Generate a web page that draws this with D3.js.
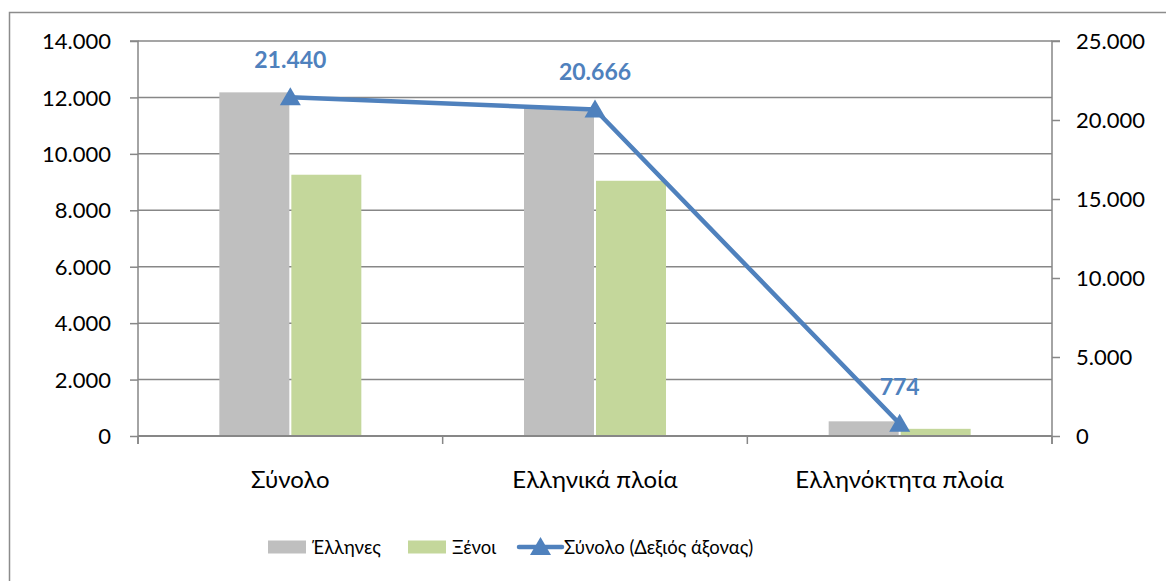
<!DOCTYPE html>
<html>
<head>
<meta charset="utf-8">
<script src="https://cdn.jsdelivr.net/npm/d3@7"></script>
<style>
  body { margin: 0; background: #fff; }
  svg text { font-family: Lato, "Open Sans", sans-serif; }
</style>
</head>
<body>
<svg id="chart" width="1166" height="581"></svg>
<script>
const categories = ['Σύνολο', 'Ελληνικά πλοία', 'Ελληνόκτητα πλοία'];
const series = ['Έλληνες', 'Ξένοι'];
const ellines = [12180, 11620, 520];
const xenoi = [9260, 9046, 254];
const synolo = [21440, 20666, 774];
const leftTicks = [0, 2000, 4000, 6000, 8000, 10000, 12000, 14000];
const rightTicks = [0, 5000, 10000, 15000, 20000, 25000];

const colors = { 'Έλληνες': '#bfbfbf', 'Ξένοι': '#c4d79b', line: '#4f81bd' };
const gridColor = '#878787';

const svg = d3.select('#chart');
const fmt = d3.formatLocale({ decimal: ',', thousands: '.', grouping: [3], currency: ['', ''] }).format(',');

const margin = { top: 41, right: 114, bottom: 145, left: 138 };
const width = +svg.attr('width');
const height = +svg.attr('height');
const innerWidth = width - margin.left - margin.right;
const innerHeight = height - margin.top - margin.bottom;

// chart frame (right and bottom edges fall outside the picture)
svg.append('path')
  .attr('d', `M9.5,${height}V12.5H${width}`)
  .attr('fill', 'none').attr('stroke', '#8c8c8c').attr('stroke-width', 1.5);

const g = svg.append('g').attr('transform', `translate(${margin.left},${margin.top})`);

const x0 = d3.scaleBand().domain(categories).range([0, innerWidth]);
const groupW = 142;
const x1 = d3.scaleBand().domain(series)
  .range([x0.bandwidth() / 2 - groupW / 2, x0.bandwidth() / 2 + groupW / 2])
  .paddingInner(0.028);

const yL = d3.scaleLinear().domain([0, 14000]).range([innerHeight, 0]);
const yR = d3.scaleLinear().domain([0, 25000]).range([innerHeight, 0]);

// gridlines
g.append('g')
  .selectAll('line')
  .data(leftTicks.filter(d => d > 0))
  .join('line')
  .attr('x1', 0).attr('x2', innerWidth)
  .attr('y1', d => yL(d)).attr('y2', d => yL(d))
  .attr('stroke', gridColor).attr('stroke-width', 1.5);

// bars
const rows = categories.map((c, i) => ({ cat: c, values: [ellines[i], xenoi[i]] }));
const grp = g.selectAll('.grp')
  .data(rows)
  .join('g')
  .attr('transform', d => `translate(${x0(d.cat)},0)`);

grp.selectAll('rect')
  .data(d => d.values.map((v, j) => ({ key: series[j], v })))
  .join('rect')
  .attr('x', d => x1(d.key))
  .attr('width', x1.bandwidth())
  .attr('y', d => yL(d.v))
  .attr('height', d => innerHeight - yL(d.v))
  .attr('fill', d => colors[d.key]);

// value axes
const leftAxis = g.append('g')
  .call(d3.axisLeft(yL).tickValues(leftTicks).tickFormat(fmt).tickSize(8).tickPadding(19));
const rightAxis = g.append('g')
  .attr('transform', `translate(${innerWidth},0)`)
  .call(d3.axisRight(yR).tickValues(rightTicks).tickFormat(fmt).tickSize(8).tickPadding(16));

[leftAxis, rightAxis].forEach(ax => {
  ax.attr('font-size', null).attr('font-family', null);
  ax.select('.domain').attr('fill', 'none').attr('stroke', gridColor).attr('stroke-width', 1.5);
  ax.selectAll('.tick line').attr('stroke', gridColor).attr('stroke-width', 1.5);
  ax.selectAll('.tick text')
    .attr('font-size', 22)
    .attr('dy', '0.35em')
    .attr('fill', '#000');
});
leftAxis.select('.domain').attr('d', `M-8,0H0V${innerHeight + 8}`);
rightAxis.select('.domain').attr('d', `M8,0H0V${innerHeight + 8}`);

// category axis
g.append('line')
  .attr('x1', 0).attr('x2', innerWidth)
  .attr('y1', innerHeight).attr('y2', innerHeight)
  .attr('stroke', gridColor).attr('stroke-width', 2);

const bounds = categories.map(c => x0(c)).concat([innerWidth]);
g.append('g').selectAll('line')
  .data(bounds)
  .join('line')
  .attr('x1', d => d).attr('x2', d => d)
  .attr('y1', innerHeight).attr('y2', innerHeight + 8)
  .attr('stroke', gridColor).attr('stroke-width', 1.5);

g.append('g').selectAll('text')
  .data(categories)
  .join('text')
  .attr('x', d => x0(d) + x0.bandwidth() / 2)
  .attr('y', innerHeight + 52)
  .attr('text-anchor', 'middle')
  .attr('font-size', 24)
  .attr('fill', '#000')
  .text(d => d);

// total line on right axis
const pts = categories.map((c, i) => ({ x: x0(c) + x0.bandwidth() / 2, y: yR(synolo[i]), v: synolo[i] }));
g.append('path')
  .datum(pts)
  .attr('d', d3.line().x(d => d.x).y(d => d.y))
  .attr('fill', 'none')
  .attr('stroke', colors.line)
  .attr('stroke-width', 4.5)
  .attr('stroke-linejoin', 'round');

const tri = 'M0,-10L10.5,8L-10.5,8Z';
g.append('g').selectAll('path')
  .data(pts)
  .join('path')
  .attr('transform', d => `translate(${d.x},${d.y})`)
  .attr('d', tri)
  .attr('fill', colors.line);

g.append('g').selectAll('text')
  .data(pts)
  .join('text')
  .attr('x', d => d.x)
  .attr('y', d => d.y - 29)
  .attr('text-anchor', 'middle')
  .attr('font-size', 23)
  .attr('font-weight', 'bold')
  .attr('fill', colors.line)
  .text(d => fmt(d.v));

// legend
const legend = svg.append('g').attr('transform', 'translate(0,547)');
const legItems = [
  { label: 'Έλληνες', x: 268, type: 'rect', color: colors['Έλληνες'] },
  { label: 'Ξένοι', x: 408, type: 'rect', color: colors['Ξένοι'] },
  { label: 'Σύνολο (Δεξιός άξονας)', x: 519, type: 'line', color: colors.line }
];
legItems.forEach(it => {
  if (it.type === 'rect') {
    legend.append('rect').attr('x', it.x).attr('y', -6.5).attr('width', 38).attr('height', 13).attr('fill', it.color);
  } else {
    legend.append('line').attr('x1', it.x).attr('x2', it.x + 43).attr('y1', 0).attr('y2', 0)
      .attr('stroke', it.color).attr('stroke-width', 4.5).attr('stroke-linecap', 'round');
    legend.append('path').attr('transform', `translate(${it.x + 21.5},0)`).attr('d', tri).attr('fill', it.color);
  }
  legend.append('text')
    .attr('x', it.x + (it.type === 'rect' ? 44 : 45))
    .attr('y', 7)
    .attr('font-size', 18.5)
    .attr('fill', '#000')
    .text(it.label);
});
</script>
</body>
</html>
